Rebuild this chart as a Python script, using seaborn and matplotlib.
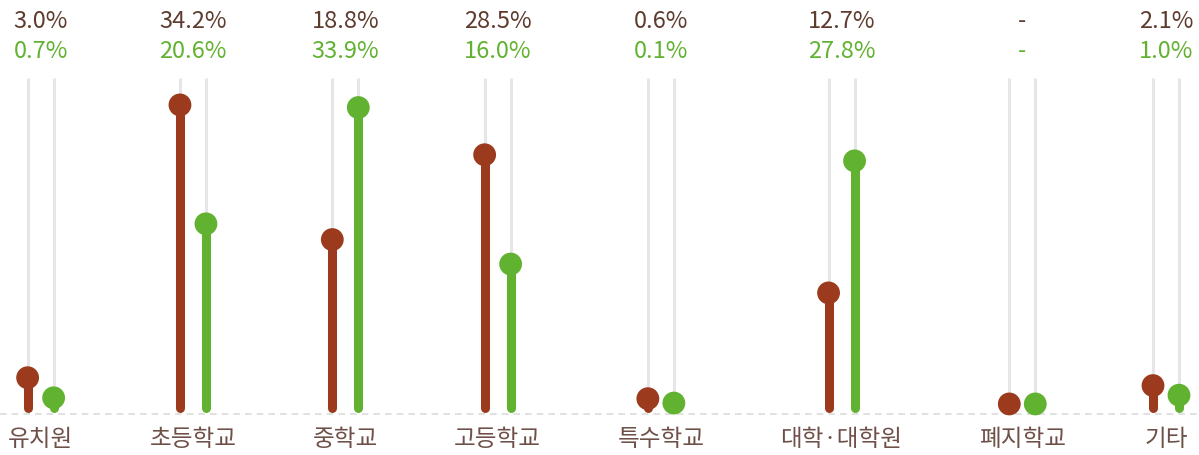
import numpy as np
import pandas as pd
import matplotlib.pyplot as plt
import seaborn as sns

# 데이터
categories = ["유치원", "초등학교", "중학교", "고등학교", "특수학교", "대학·대학원", "폐지학교", "기타"]
brown_values = [3.0, 34.2, 18.8, 28.5, 0.6, 12.7, np.nan, 2.1]
green_values = [0.7, 20.6, 33.9, 16.0, 0.1, 27.8, np.nan, 1.0]

BROWN = "#9C3A1E"
GREEN = "#62B232"
BROWN_TEXT = "#5E3B2E"
LABEL_COLOR = "#6E5048"

sns.set_theme(style="white")
plt.rcParams["font.family"] = ["Noto Sans CJK KR", "DejaVu Sans"]

W, H = 1199, 455
fig = plt.figure(figsize=(W / 100, H / 100), dpi=100)
ax = fig.add_axes([0, 0, 1, 1])
ax.set_xlim(0, W)          # 가로는 픽셀 단위
ax.set_ylim(-5.84, 46.2)
ax.set_axis_off()

# 항목 라벨 먼저 그리고 폭을 재서 균등 간격(space-between) 배치
cat_texts = [ax.text(0, -4.1, c, ha="center", va="center", fontsize=17,
                     color=LABEL_COLOR, fontweight="light") for c in categories]
fig.canvas.draw()
widths = [max(t.get_window_extent().width, 48) for t in cat_texts]
left, right = 8, 1166 + widths[-1] / 2
gap = (right - left - sum(widths)) / (len(categories) - 1)
centers = []
pos = left
for w in widths:
    centers.append(pos + w / 2)
    pos += w + gap
for t, cx in zip(cat_texts, centers):
    t.set_x(cx)

df = pd.DataFrame({
    "category": categories * 2,
    "series": ["brown"] * len(categories) + ["green"] * len(categories),
    "value": brown_values + green_values,
})
df["center"] = centers * 2
df["x"] = df["center"] + df["series"].map({"brown": -13, "green": 13})
df["plot_value"] = df["value"].fillna(0)

# 회색 배경 선
ax.vlines(df["x"], -0.9, 37.3, color="#E6E6E6", lw=2.2, zorder=1)

# 점선 기준선
ax.axhline(-1.14, color="#DCDCDC", lw=1.2, ls=(0, (4, 3)), zorder=1)

# 롤리팝 줄기
for s, c in [("brown", BROWN), ("green", GREEN)]:
    sub = df[(df["series"] == s) & (df["plot_value"] > 0)]
    for _, r in sub.iterrows():
        ax.plot([r["x"], r["x"]], [-0.45, r["plot_value"]], color=c, lw=6.5,
                solid_capstyle="round", zorder=2)

sns.scatterplot(data=df, x="x", y="plot_value", hue="series",
                palette={"brown": BROWN, "green": GREEN}, s=270,
                edgecolor="none", legend=False, ax=ax, zorder=3)
ax.set_xlim(0, W)
ax.set_ylim(-5.84, 46.2)
ax.set_axis_off()

# 퍼센트 라벨
for i, cx in enumerate(centers):
    b = brown_values[i]
    g = green_values[i]
    ax.text(cx, 43.7, "-" if np.isnan(b) else f"{b:.1f}%", ha="center", va="center",
            fontsize=17, color=BROWN_TEXT, fontweight="light")
    ax.text(cx, 40.3, "-" if np.isnan(g) else f"{g:.1f}%", ha="center", va="center",
            fontsize=17, color=GREEN, fontweight="light")

fig.savefig("out.png", dpi=100, facecolor="white")
